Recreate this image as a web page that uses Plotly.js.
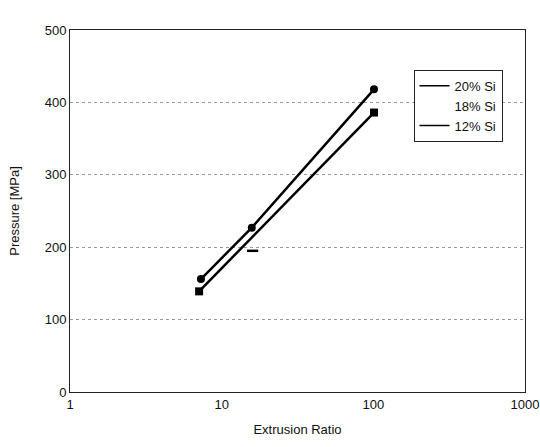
<!DOCTYPE html>
<html>
<head>
<meta charset="utf-8">
<script src="https://cdn.plot.ly/plotly-3.0.1.min.js"></script>
<style>html,body{margin:0;padding:0;background:#fff;}#chart{width:540px;height:447px;}</style>
</head>
<body>
<div id="chart"></div>
<script>
// Data
const seriesNames = ["20% Si", "18% Si", "12% Si"];
const x20 = [7.3, 15.8, 101];
const y20 = [156, 227, 418];
const x18 = [16];
const y18 = [195];
const x12 = [7.1, 101];
const y12 = [139, 386];
const xTicks = [1, 10, 100, 1000];
const xTickText = ["1", "10", "100", "1000"];

const font = {family: "Liberation Sans, Arial, sans-serif", size: 13, color: "#111"};

const traces = [
  {x: x20, y: y20, mode: "lines+markers", showlegend: false,
   line: {color: "#000", width: 2.5}, marker: {symbol: "circle", size: 8, color: "#000"}},
  {x: x18, y: y18, mode: "markers", showlegend: false,
   marker: {symbol: "line-ew", size: 8, line: {color: "#000", width: 2.5}}},
  {x: x12, y: y12, mode: "lines+markers", showlegend: false,
   line: {color: "#000", width: 2.5}, marker: {symbol: "square", size: 8, color: "#000"}},
  // legend entries
  {x: [null], y: [null], mode: "lines", name: seriesNames[0], line: {color: "#000", width: 1.5}},
  {x: [null], y: [null], mode: "lines", name: seriesNames[1], line: {color: "rgba(0,0,0,0)", width: 1.5}},
  {x: [null], y: [null], mode: "lines", name: seriesNames[2], line: {color: "#000", width: 1.5}}
];

const layout = {
  width: 540, height: 447,
  margin: {l: 70, r: 15, t: 30, b: 55},
  paper_bgcolor: "#fff", plot_bgcolor: "#fff",
  font: font,
  showlegend: true,
  legend: {x: 0.755, y: 0.89, xanchor: "left", yanchor: "top",
           bordercolor: "#222", borderwidth: 1, bgcolor: "#fff",
           font: {family: font.family, size: 13, color: "#111"},
           tracegroupgap: 0, itemwidth: 30},
  xaxis: {type: "log", range: [0, 3], tickvals: xTicks, ticktext: xTickText,
          showgrid: false, zeroline: false, showline: true, linecolor: "#222", linewidth: 1,
          mirror: true, ticks: "", tickfont: {size: 13},
          title: {text: "Extrusion Ratio", font: {size: 13}, standoff: 14}},
  yaxis: {range: [0, 500], dtick: 100, showgrid: true, gridcolor: "#999", griddash: "dot", gridwidth: 1,
          zeroline: false, showline: true, linecolor: "#222", linewidth: 1, mirror: true,
          ticks: "", tickfont: {size: 13},
          title: {text: "Pressure [MPa]", font: {size: 13}, standoff: 22}}
};

Plotly.newPlot("chart", traces, layout, {displayModeBar: false, staticPlot: true});
</script>
</body>
</html>
